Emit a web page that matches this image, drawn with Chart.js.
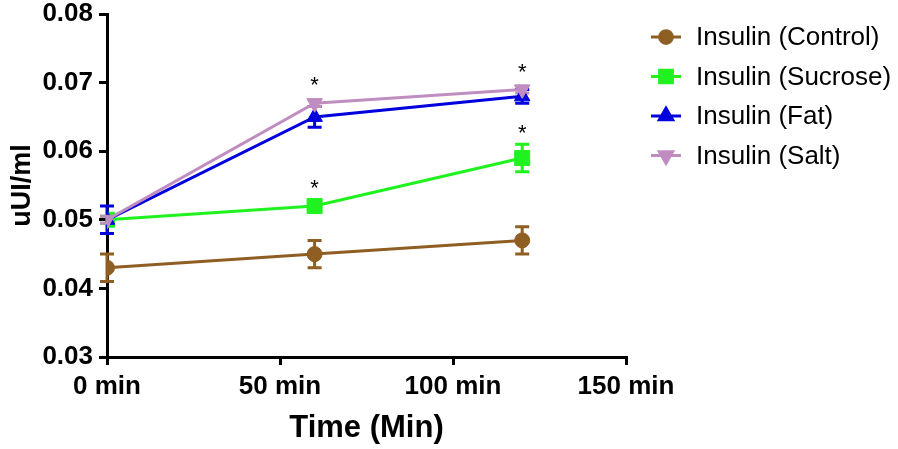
<!DOCTYPE html>
<html>
<head>
<meta charset="utf-8">
<script src="https://cdn.jsdelivr.net/npm/chart.js@4.4.0/dist/chart.umd.min.js"></script>
<style>
  html, body { margin: 0; padding: 0; background: #fff; }
  #wrap { width: 898px; height: 449px; }
</style>
</head>
<body>
<div id="wrap"><canvas id="myChart"></canvas></div>
<script>
/* data */
const times = [0, 60, 120];
const seriesNames = ['Insulin (Control)', 'Insulin (Sucrose)', 'Insulin (Fat)', 'Insulin (Salt)'];
const controlMean = [0.043, 0.045, 0.047];
const controlErr = [0.002, 0.002, 0.002];
const sucroseMean = [0.050, 0.052, 0.059];
const sucroseErr = [0.0005, 0.0005, 0.002];
const fatMean = [0.050, 0.065, 0.068];
const fatErr = [0.002, 0.0015, 0.001];
const saltMean = [0.050, 0.067, 0.069];
const saltErr = [0.0005, 0.0005, 0.0005];
const xTicks = [0, 50, 100, 150];
const yTicks = [0.03, 0.04, 0.05, 0.06, 0.07, 0.08];
// significance stars: [dataset index, point index]
const stars = [[1, 1], [1, 2], [3, 1], [3, 2]];

const colors = ['#8f5e22', '#1ff21f', '#0000dd', '#c08dc0'];
const means = [controlMean, sucroseMean, fatMean, saltMean];
const errs = [controlErr, sucroseErr, fatErr, saltErr];
const styles = ['circle', 'rect', 'triangle', 'triangle'];
const radii = [7.5, 10.6, 9, 9];
const rotations = [0, 0, 0, 180];

function makeData(m) {
    return times.map((t, i) => ({ x: t, y: m[i] }));
}

/* error bars */
const errorBars = {
    id: 'errorBars',
    beforeDatasetsDraw(chart) {
        const c = chart.ctx, xs = chart.scales.x, ys = chart.scales.y;
        c.save();
        c.lineWidth = 3;
        means.forEach((m, d) => {
            c.strokeStyle = colors[d];
            m.forEach((v, i) => {
                const px = xs.getPixelForValue(times[i]);
                const top = ys.getPixelForValue(v + errs[d][i]);
                const bot = ys.getPixelForValue(v - errs[d][i]);
                c.beginPath();
                c.moveTo(px, top); c.lineTo(px, bot);
                c.moveTo(px - 7, top); c.lineTo(px + 7, top);
                c.moveTo(px - 7, bot); c.lineTo(px + 7, bot);
                c.stroke();
            });
        });
        c.restore();
    },
    afterDatasetsDraw(chart) {
        const c = chart.ctx, xs = chart.scales.x, ys = chart.scales.y;
        c.save();
        c.fillStyle = '#000';
        c.font = '22px "Liberation Sans", Arial, sans-serif';
        c.textAlign = 'center';
        c.textBaseline = 'middle';
        stars.forEach(([d, i]) => {
            const px = xs.getPixelForValue(times[i]);
            const top = Math.min(ys.getPixelForValue(means[d][i] + errs[d][i]), ys.getPixelForValue(means[d][i]) - 7);
            c.fillText('*', px, top - 10);
        });
        c.restore();
    }
};

/* legend */
const sideLegend = {
    id: 'sideLegend',
    afterDraw(chart) {
        const c = chart.ctx;
        c.save();
        c.font = '26px "Liberation Sans", Arial, sans-serif';
        c.textBaseline = 'middle';
        seriesNames.forEach((name, d) => {
            const y = 37 + d * 39.5;
            c.strokeStyle = colors[d];
            c.lineWidth = 3;
            c.beginPath();
            c.moveTo(651, y); c.lineTo(681, y);
            c.stroke();
            c.fillStyle = colors[d];
            c.strokeStyle = colors[d];
            Chart.helpers.drawPoint(c, {
                pointStyle: styles[d], radius: radii[d] * 0.85, rotation: rotations[d], borderWidth: 1
            }, 666, y);
            c.fillStyle = '#000';
            c.fillText(name, 696, y + 1);
        });
        c.restore();
    }
};

new Chart(document.getElementById('myChart'), {
    type: 'line',
    data: {
        datasets: means.map((m, d) => ({
            label: seriesNames[d],
            data: makeData(m),
            borderColor: colors[d],
            backgroundColor: colors[d],
            borderWidth: 3,
            pointStyle: styles[d],
            pointRadius: radii[d],
            pointRotation: rotations[d],
            pointBorderWidth: 1,
            fill: false,
            order: 3 - d
        }))
    },
    options: {
        responsive: true,
        maintainAspectRatio: false,
        animation: false,
        layout: { padding: { left: 0, top: 14, right: 272, bottom: 2 } },
        plugins: { legend: { display: false }, tooltip: { enabled: false } },
        scales: {
            x: {
                type: 'linear',
                min: 0,
                max: 150,
                afterFit(s) { s.height = 90; s.paddingLeft = 0; s.paddingRight = 0; },
                afterBuildTicks(s) { s.ticks = xTicks.map(v => ({ value: v })); },
                border: { color: '#000', width: 3 },
                grid: { drawOnChartArea: false, color: '#000', lineWidth: 3, tickLength: 8 },
                ticks: {
                    color: '#000',
                    padding: 6,
                    maxRotation: 0,
                    font: { family: '"Liberation Sans", Arial, sans-serif', size: 26, weight: 'bold' },
                    callback: v => v + ' min'
                },
                title: {
                    display: true,
                    text: 'Time (Min)',
                    color: '#000',
                    padding: { top: 0, bottom: 0 },
                    font: { family: '"Liberation Sans", Arial, sans-serif', size: 31, weight: 'bold' }
                }
            },
            y: {
                min: 0.03,
                max: 0.08,
                afterFit(s) { s.width = 107; s.paddingTop = 0; s.paddingBottom = 0; },
                afterBuildTicks(s) { s.ticks = yTicks.map(v => ({ value: v })); },
                border: { color: '#000', width: 3 },
                grid: { drawOnChartArea: false, color: '#000', lineWidth: 3, tickLength: 8 },
                ticks: {
                    color: '#000',
                    padding: 6,
                    font: { family: '"Liberation Sans", Arial, sans-serif', size: 26, weight: 'bold' },
                    callback: v => v.toFixed(2)
                },
                title: {
                    display: true,
                    text: 'uUI/ml',
                    color: '#000',
                    padding: { top: 6, bottom: 0 },
                    font: { family: '"Liberation Sans", Arial, sans-serif', size: 27, weight: 'bold' }
                }
            }
        }
    },
    plugins: [errorBars, sideLegend]
});
</script>
</body>
</html>
